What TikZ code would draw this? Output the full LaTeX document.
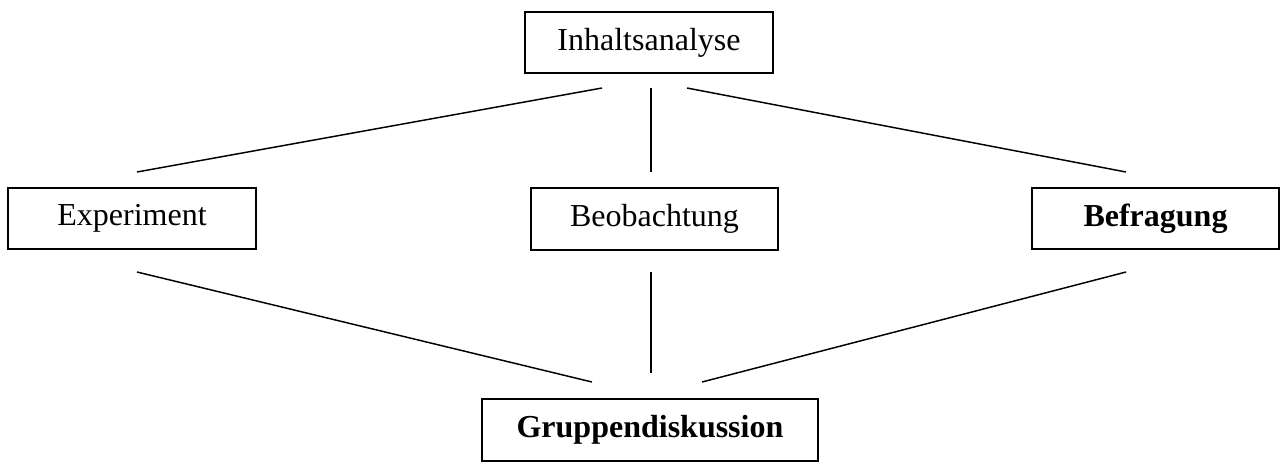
\documentclass[tikz,border=0pt]{standalone}
\usepackage{fontspec}
\setmainfont{Liberation Serif}
\begin{document}
\begin{tikzpicture}[x=0.75pt,y=-0.75pt,
  box/.style={draw,line width=1.1pt,inner sep=0pt,font=\fontsize{24}{28}\selectfont},
  link/.style={line width=1.1pt}]
\useasboundingbox (0,0) rectangle (1281,462);
\node[box,minimum width=248*0.75pt,minimum height=61*0.75pt] (ia) at (649,42.5) {Inhaltsanalyse};
\node[box,minimum width=248*0.75pt,minimum height=61*0.75pt] (ex) at (132,218.5) {Experiment};
\node[box,minimum width=247*0.75pt,minimum height=62*0.75pt] (be) at (654.5,219) {Beobachtung};
\node[box,minimum width=247*0.75pt,minimum height=61*0.75pt] (bf) at (1155.5,218.5) {\bfseries Befragung};
\node[box,minimum width=336*0.75pt,minimum height=62*0.75pt] (gd) at (650,430) {\bfseries Gruppendiskussion};
\coordinate (a1) at (602,88);
\coordinate (a2) at (651,88);
\coordinate (a3) at (687,88);
\coordinate (b1) at (137,172);
\coordinate (b2) at (651,172);
\coordinate (b3) at (1126,172);
\coordinate (c1) at (137,272);
\coordinate (c2) at (651,272);
\coordinate (c3) at (1126,272);
\coordinate (d1) at (592,382);
\coordinate (d2) at (651,373);
\coordinate (d3) at (702,382);
\draw[link] (a1) -- (b1);
\draw[link] (a2) -- (b2);
\draw[link] (a3) -- (b3);
\draw[link] (c1) -- (d1);
\draw[link] (c2) -- (d2);
\draw[link] (c3) -- (d3);
\end{tikzpicture}
\end{document}
